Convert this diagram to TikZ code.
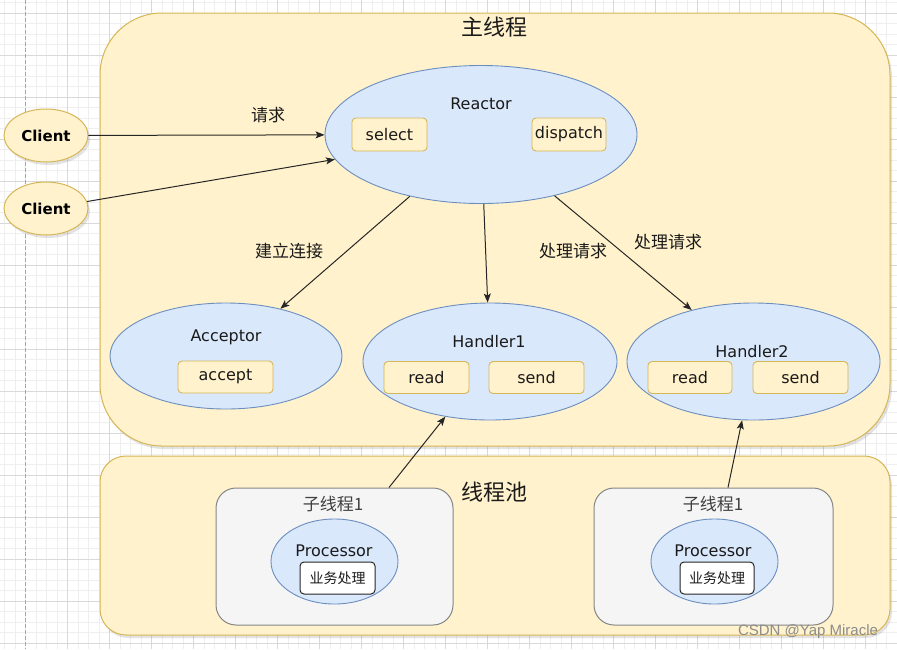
\documentclass[tikz,border=0pt]{standalone}
\usepackage{fontspec}
\setmainfont{DejaVu Sans}
\newfontfamily\cjk{Noto Sans CJK SC}
\newfontfamily\wmfont{Liberation Sans}
\usetikzlibrary{shapes.geometric,arrows.meta,shadows,calc}
\definecolor{yfill}{HTML}{FFF2CC}
\definecolor{ystroke}{HTML}{D6B656}
\definecolor{bfill}{HTML}{DAE8FC}
\definecolor{bstroke}{HTML}{6C8EBF}
\definecolor{gfill}{HTML}{F5F5F5}
\definecolor{gstroke}{HTML}{666666}
\definecolor{minorgrid}{HTML}{EFEFEF}
\definecolor{majorgrid}{HTML}{D9D9D9}
\definecolor{txt}{HTML}{1A1A1A}
\tikzset{
  shadowed/.style={drop shadow={opacity=0.22,shadow xshift=2pt,shadow yshift=-3pt}},
  container/.style={draw=ystroke, fill=yfill, line width=1pt, rounded corners=#1, inner sep=0pt, shadowed},
  subbox/.style={draw=gstroke!80, fill=gfill, line width=1pt, rounded corners=20pt, inner sep=0pt},
  blueell/.style={ellipse, draw=bstroke, fill=bfill, line width=0.9pt, inner sep=0pt},
  clientell/.style={ellipse, draw=ystroke, fill=yfill, line width=1pt, inner sep=0pt, shadowed,
    font=\bfseries\fontsize{15}{17}\selectfont, text=black},
  ybox/.style={draw=ystroke, fill=yfill, line width=0.9pt, rounded corners=4pt, inner sep=0pt,
    font=\fontsize{16}{18}\selectfont, text=txt},
  wbox/.style={draw=black!85, fill=white, line width=1pt, rounded corners=4pt, inner sep=0pt,
    font=\cjk\fontsize{14}{16}\selectfont, text=txt},
  lbl/.style={inner sep=0pt, font=\fontsize{16}{18}\selectfont, text=txt},
  cjklbl/.style={inner sep=0pt, font=\cjk\fontsize{17}{19}\selectfont, text=txt},
  titlelbl/.style={inner sep=0pt, font=\cjk\fontsize{22}{24}\selectfont, text=txt},
  sublbl/.style={inner sep=0pt, font=\cjk\fontsize{17}{19}\selectfont, text=black!75},
  arr/.style={draw=black!85, line width=1pt, -{Stealth[length=9pt,width=7pt,inset=2pt]}},
}
\begin{document}
\begin{tikzpicture}[x=1pt,y=-1pt]
\useasboundingbox (0,0) rectangle (897,649);
\fill[white] (0,0) rectangle (897,649);
% background grid
\foreach \i in {0,...,85} {\draw[minorgrid,line width=0.8pt] ({4.7+10.5*\i},0) -- ({4.7+10.5*\i},649);}
\foreach \i in {0,...,61} {\draw[minorgrid,line width=0.8pt] (0,{2.8+10.5*\i}) -- (897,{2.8+10.5*\i});}
\foreach \i in {1,...,21} {\draw[majorgrid,line width=0.8pt] ({25.7+42*\i},0) -- ({25.7+42*\i},649);}
\foreach \i in {0,...,15} {\draw[majorgrid,line width=0.8pt] (0,{13.3+42*\i}) -- (897,{13.3+42*\i});}
\draw[black!35,line width=0.8pt,dash pattern=on 4pt off 2pt] (25.7,0) -- (25.7,649);

% containers
\node[container=62pt, minimum width=790pt, minimum height=433pt] (main) at (495,229.5) {};
\node[titlelbl] (maintitle) at (494,27) {主线程};
\node[container=26pt, minimum width=790pt, minimum height=179pt] (pool) at (495,545.5) {};
\node[titlelbl] (pooltitle) at (494,492) {线程池};

% clients
\node[clientell, minimum width=84pt, minimum height=53pt] (client1) at (46,135.5) {Client};
\node[clientell, minimum width=84pt, minimum height=53pt] (client2) at (46,208.5) {Client};

% reactor
\node[blueell, minimum width=312pt, minimum height=138pt] (reactor) at (481,134.5) {};
\node[lbl] (reactorlbl) at (481,104) {Reactor};
\node[ybox, minimum width=75pt, minimum height=33pt] (select) at (389.5,134.5) {select};
\node[ybox, minimum width=74pt, minimum height=33pt] (dispatch) at (569,134.5) {dispatch};

% acceptor
\node[blueell, minimum width=232pt, minimum height=106pt] (acceptor) at (226,356) {};
\node[lbl] (acceptorlbl) at (226,337) {Acceptor};
\node[ybox, minimum width=95pt, minimum height=32pt] (accept) at (225.5,377) {accept};

% handler1
\node[blueell, minimum width=254pt, minimum height=117pt] (handler1) at (490,361.5) {};
\node[lbl] (h1lbl) at (489,342) {Handler1};
\node[ybox, minimum width=85pt, minimum height=32pt] (read1) at (426.5,377.5) {read};
\node[ybox, minimum width=95pt, minimum height=32pt] (send1) at (536.5,377.5) {send};

% handler2
\node[blueell, minimum width=253pt, minimum height=117pt] (handler2) at (753.5,361.5) {};
\node[lbl] (h2lbl) at (752,352) {Handler2};
\node[ybox, minimum width=84pt, minimum height=32pt] (read2) at (690,377.5) {read};
\node[ybox, minimum width=95pt, minimum height=32pt] (send2) at (800.5,377.5) {send};

% sub threads
\node[subbox, minimum width=237pt, minimum height=137pt] (sub1) at (334.5,556.5) {};
\node[sublbl] (sub1lbl) at (333,504) {子线程1};
\node[blueell, minimum width=127pt, minimum height=85pt] (proc1) at (334.5,561.5) {};
\node[lbl] (proc1lbl) at (334,551) {Processor};
\node[wbox, minimum width=75pt, minimum height=32pt] (biz1) at (337.5,578) {业务处理};

\node[subbox, minimum width=239pt, minimum height=137pt] (sub2) at (713.5,556.5) {};
\node[sublbl] (sub2lbl) at (713,504) {子线程1};
\node[blueell, minimum width=127pt, minimum height=85pt] (proc2) at (714.5,561.5) {};
\node[lbl] (proc2lbl) at (713,551) {Processor};
\node[wbox, minimum width=74pt, minimum height=32pt] (biz2) at (717,578) {业务处理};

% connectors
\draw[arr] (client1) -- (reactor);
\draw[arr] (client2) -- (reactor);
\draw[arr] (reactor) -- (acceptor);
\draw[arr] (reactor) -- (handler1);
\draw[arr] (reactor) -- (handler2);
\draw[arr] (389,0 |- sub1.north) -- (handler1.231);
\draw[arr] (728,0 |- sub2.north) -- (handler2.259);

% connector labels
\node[cjklbl] (lreq) at (268,115) {请求};
\node[cjklbl] (lconn) at (289,251) {建立连接};
\node[cjklbl] (lh1) at (573,251) {处理请求};
\node[cjklbl] (lh2) at (668,242) {处理请求};

% watermark
\node[inner sep=0pt, font=\wmfont\fontsize{15}{17}\selectfont, text=black!45] (wm) at (808,632) {CSDN @Yap Miracle};
\end{tikzpicture}
\end{document}
